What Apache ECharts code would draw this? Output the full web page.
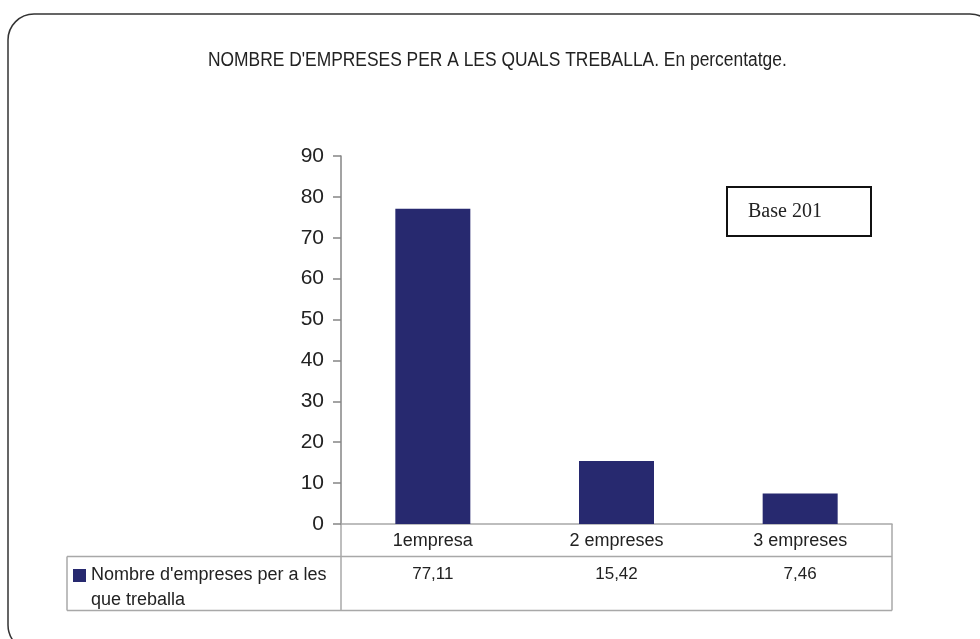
<!DOCTYPE html>
<html>
<head>
<meta charset="utf-8">
<script src="https://cdn.jsdelivr.net/npm/echarts@6/dist/echarts.min.js"></script>
<style>
html, body { margin: 0; padding: 0; background: #fff; }
#chart { width: 980px; height: 639px; }
</style>
</head>
<body>
<div id="chart"></div>
<script>
// dades
var categories = ['1empresa', '2 empreses', '3 empreses'];
var values = [77.11, 15.42, 7.46];
var seriesName = "Nombre d'empreses per a les que treballa";
var yTicks = { min: 0, max: 90, interval: 10 };

var barColor = '#27296F';
var gridLine = '#a8a8a8';
var sans = '"Liberation Sans", Arial, sans-serif';
var fmt = function (v) { return v.toFixed(2).replace('.', ','); };

var myChart = echarts.init(document.getElementById('chart'));
var option = {
    backgroundColor: '#fff',
    animation: false,
    legend: {
        left: 73,
        top: 538,
        padding: 0,
        itemWidth: 13,
        itemHeight: 13,
        icon: 'rect',
        // línia buida al davant perquè la icona quedi a la primera línia
        formatter: function () { return "\nNombre d'empreses per a les\nque treballa"; },
        textStyle: {
            fontFamily: sans,
            fontSize: 18,
            lineHeight: 25,
            color: '#222'
        },
        data: [seriesName]
    },
    grid: { left: 341, right: 88, top: 156, bottom: 115, containLabel: false },
    xAxis: [{
        type: 'category',
        data: categories,
        axisLine: { lineStyle: { color: gridLine, width: 1.5 } },
        axisTick: { show: false },
        axisLabel: {
            margin: 8,
            fontFamily: sans,
            fontSize: 18,
            color: '#222'
        }
    }, {
        // fila de valors de la taula
        type: 'category',
        position: 'bottom',
        offset: 33,
        data: categories,
        axisLine: { show: false },
        axisTick: { show: false },
        axisLabel: {
            margin: 9,
            fontFamily: sans,
            fontSize: 17,
            color: '#222',
            formatter: function (v, i) { return fmt(values[i]); }
        }
    }],
    yAxis: {
        type: 'value',
        min: yTicks.min,
        max: yTicks.max,
        interval: yTicks.interval,
        axisLine: { show: true, lineStyle: { color: '#858585', width: 1.5 } },
        axisTick: { show: true, length: 8, lineStyle: { color: '#858585', width: 1.5 } },
        splitLine: { show: false },
        axisLabel: {
            margin: 17,
            fontFamily: sans,
            fontSize: 21,
            color: '#222'
        }
    },
    series: [{
        name: seriesName,
        type: 'bar',
        data: values,
        barWidth: 75,
        itemStyle: { color: barColor }
    }],
    graphic: [
        // marc arrodonit
        { type: 'rect', shape: { x: 8, y: 14, width: 988, height: 637, r: 26 },
          style: { fill: null, stroke: '#333', lineWidth: 1.5 }, silent: true },
        // títol (lletra estreta)
        { type: 'text', x: 208, y: 60, scaleX: 0.87,
          style: { text: "NOMBRE D'EMPRESES PER A LES QUALS TREBALLA. En percentatge.",
                   fontFamily: sans, fontSize: 20, fill: '#222', align: 'left', verticalAlign: 'middle' } },
        // línies de la taula
        { type: 'line', shape: { x1: 67, y1: 556.5, x2: 892, y2: 556.5 }, style: { stroke: gridLine, lineWidth: 1.5 } },
        { type: 'line', shape: { x1: 67, y1: 610.5, x2: 892, y2: 610.5 }, style: { stroke: gridLine, lineWidth: 1.5 } },
        { type: 'line', shape: { x1: 67, y1: 556.5, x2: 67, y2: 610.5 }, style: { stroke: gridLine, lineWidth: 1.5 } },
        { type: 'line', shape: { x1: 341, y1: 524, x2: 341, y2: 610.5 }, style: { stroke: gridLine, lineWidth: 1.5 } },
        { type: 'line', shape: { x1: 892, y1: 524, x2: 892, y2: 610.5 }, style: { stroke: gridLine, lineWidth: 1.5 } },
        // caixa Base
        { type: 'rect', shape: { x: 727, y: 187, width: 144, height: 49 },
          style: { fill: '#fff', stroke: '#111', lineWidth: 2 } },
        { type: 'text', x: 748, y: 211.5,
          style: { text: 'Base 201', fontFamily: '"Liberation Serif", "Times New Roman", serif',
                   fontSize: 20, fill: '#222', align: 'left', verticalAlign: 'middle' } }
    ]
};
myChart.setOption(option);
</script>
</body>
</html>
